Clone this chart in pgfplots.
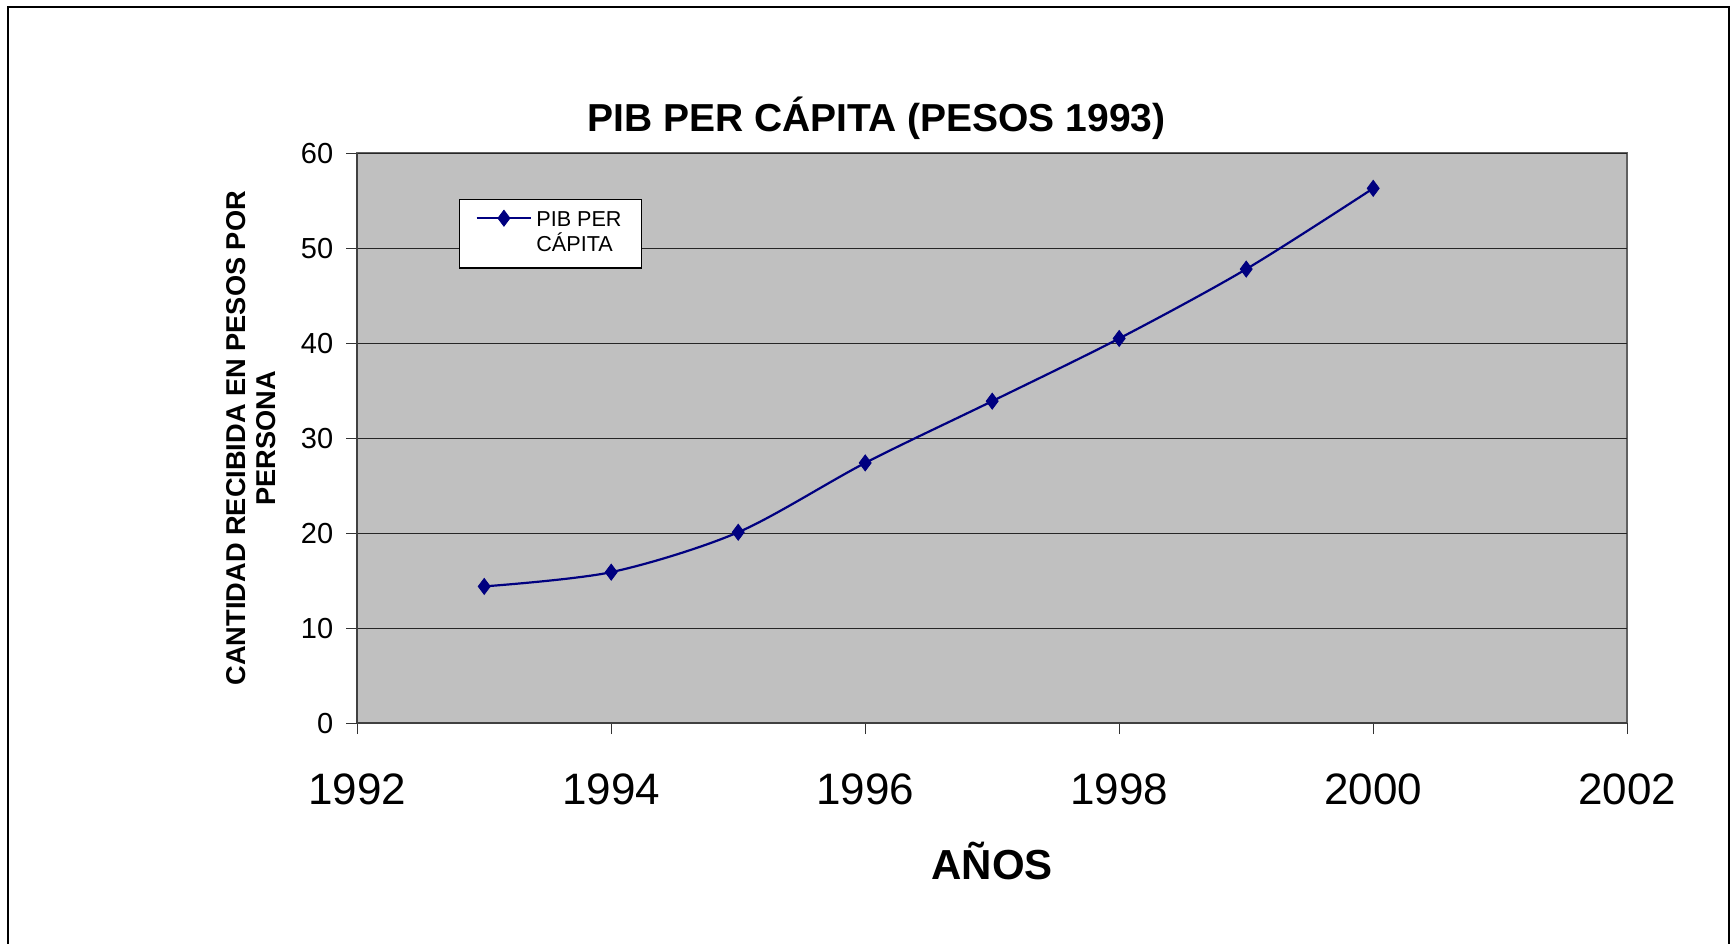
\documentclass[border=0pt]{standalone}
\usepackage{fontspec}
\setmainfont{Liberation Sans}
\usepackage{pgfplots}
\pgfplotsset{compat=1.18}
\definecolor{navyline}{HTML}{000080}
\definecolor{plotbg}{HTML}{C0C0C0}
\begin{document}
\begin{tikzpicture}
\useasboundingbox (0,0) rectangle (865pt,471.5pt);
\draw[line width=1pt] (4pt,-10pt) -- (4pt,468pt) -- (864.5pt,468pt) -- (864.5pt,-10pt);
\begin{axis}[
  at={(178.6pt,109.9pt)}, anchor=south west,
  width=635pt, height=285pt, scale only axis,
  xmin=1992, xmax=2002, ymin=0, ymax=60,
  xtick={1992,1994,...,2002}, ytick={0,10,...,60},
  /pgf/number format/assume math mode=true,
  /pgf/number format/1000 sep={},
  axis background/.style={fill=plotbg, draw=gray!75!black, line width=1pt},
  axis x line=bottom, axis y line=left,
  axis line style={-, draw=black!75, line width=1pt},
  tick align=outside, major tick length=5.5pt,
  tick style={black!80, line width=0.6pt},
  ymajorgrids, grid style={black!85, line width=0.6pt},
  xticklabel style={font=\fontsize{22}{26}\selectfont, anchor=base, yshift=-35pt},
  yticklabel style={font=\fontsize{14.5}{16}\selectfont, anchor=east, xshift=-3pt},
  title={PIB PER CÁPITA (PESOS 1993)},
  title style={font=\fontsize{19.5}{24}\selectfont\bfseries, at={(axis description cs:0.409,1)}, anchor=base, yshift=5pt},
  xlabel={AÑOS},
  xlabel style={font=\fontsize{21}{25}\selectfont\bfseries, at={(axis description cs:0.5,0)}, anchor=base, yshift=-78pt},
  ylabel={CANTIDAD RECIBIDA EN PESOS POR\\PERSONA},
  ylabel style={font=\fontsize{13.6}{15}\selectfont\bfseries, align=center, at={(axis description cs:0,0.5)}, anchor=center, yshift=53pt},
  legend style={at={(axis description cs:0.0801,0.9205)}, anchor=north west,
    font=\fontsize{10.8}{12.5}\selectfont, draw=black, fill=white, line width=0.6pt,
    inner xsep=8pt, inner ysep=4.5pt, cells={align=left, anchor=west}},
  legend image code/.code={\draw[mark repeat=2, mark phase=2, #1] plot coordinates {(0cm,0.27cm) (0.48cm,0.27cm) (0.96cm,0.27cm)};},
]
\addplot[navyline, line width=1.1pt, smooth, tension=0.5, mark=diamond*, mark size=4pt, mark options={fill=navyline, draw=navyline, line width=0.4pt}]
  coordinates {(1993,14.4) (1994,15.9) (1995,20.1) (1996,27.4) (1997,33.9) (1998,40.5) (1999,47.8) (2000,56.3)};
\addlegendentry{PIB PER\\CÁPITA}
\end{axis}
\end{tikzpicture}
\end{document}
